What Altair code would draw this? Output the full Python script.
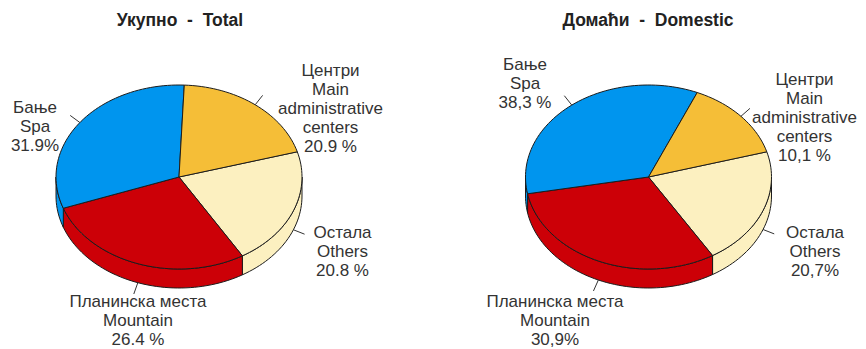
import math
import altair as alt
import pandas as pd

# ---- chart values ----
titles = ["Укупно\u00a0\u00a0-\u00a0\u00a0Total", "Домаћи\u00a0\u00a0-\u00a0\u00a0Domestic"]
categories = ["Остала", "Планинска места", "Бање", "Центри"]
# sector shares as they are drawn in the picture, clockwise from the cream slice
total_drawn = [20.8, 28.1, 31.2, 19.9]
domestic_drawn = [20.7, 30.8, 34.4, 14.1]
total_labels = [
    ["Остала", "Others", "20.8 %"],
    ["Планинска места", "Mountain", "26.4 %"],
    ["Бање", "Spa", "31.9%"],
    ["Центри", "Main", "administrative", "centers", "20.9 %"],
]
domestic_labels = [
    ["Остала", "Others", "20,7%"],
    ["Планинска места", "Mountain", "30,9%"],
    ["Бање", "Spa", "38,3 %"],
    ["Центри", "Main", "administrative", "centers", "10,1 %"],
]

# ---- styles and layout ----
colors = ["#FCF0C0", "#CC0007", "#0095EE", "#F5BE37"]
EDGE = "#1c1c1c"
TEXT = "#333333"
RX, RY, DEPTH = 123, 92, 19
START = 15.9
W, H = 850, 333
pies = [
    dict(cx=179, cy=177, title_x=180, drawn=total_drawn, labels=total_labels,
         anchors=[(342.5, 233), (138, 301.5), (35, 108), (330.5, 71)]),
    dict(cx=648.5, cy=177, title_x=648, drawn=domestic_drawn, labels=domestic_labels,
         anchors=[(815, 233), (555, 301.5), (525, 65), (804.5, 80)]),
]
X = alt.X("x:Q", axis=None, scale=alt.Scale(domain=[8, 8 + W], nice=False, zero=False))
Y = alt.Y("y:Q", axis=None, scale=alt.Scale(domain=[8 + H, 8], nice=False, zero=False))


def pt(p, deg, drop=0):
    a = math.radians(deg)
    return p["cx"] + RX * math.cos(a), p["cy"] - RY * math.sin(a) + drop


def sweep(a0, a1):
    n = max(2, int(abs(a1 - a0) / 2) + 2)
    return [a0 + (a1 - a0) * k / (n - 1) for k in range(n)]


def poly(points, fill):
    df = pd.DataFrame(points, columns=["x", "y"])
    df["i"] = range(len(df))
    return alt.Chart(df).mark_line(fill=fill, stroke=EDGE, strokeWidth=1, strokeJoin="round",
                                   clip=False).encode(x=X, y=Y, order=alt.Order("i:Q"))


def segments(p):
    out, a = [], START
    for share, color in zip(p["drawn"], colors):
        b = a - share * 3.6
        out.append((a, b, color))
        a = b
    return out


walls, tops, extras = [], [], []
for p in pies:
    for a, b, color in segments(p):
        # visible outer wall: the part of the slice on the front half of the ellipse
        lo, hi = min(a, b), max(a, b)
        for u, v in ((max(lo, -180), min(hi, 0)), (max(lo, -540), min(hi, -360))):
            if u < v:
                arc = sweep(u, v)
                pts = [pt(p, t) for t in arc] + [pt(p, t, DEPTH) for t in reversed(arc)]
                pts.append(pts[0])
                walls.append(poly(pts, color))
    for a, b, color in segments(p):
        pts = [(p["cx"], p["cy"])] + [pt(p, t) for t in sweep(a, b)] + [(p["cx"], p["cy"])]
        tops.append(poly(pts, color))

    # leader ticks at each slice's middle
    rows = []
    for n, (a, b, _) in enumerate(segments(p)):
        m = (a + b) / 2
        sinm = math.sin(math.radians(m))
        drop = DEPTH if sinm < -0.1 else 0
        x0, y0 = pt(p, m, drop)
        rows.append(dict(x=x0, y=y0, k=n, i=0))
        rows.append(dict(x=x0 + 12 * math.cos(math.radians(m)), y=y0 - 12 * sinm, k=n, i=1))
    extras.append(alt.Chart(pd.DataFrame(rows)).mark_line(color="#333333", strokeWidth=1).encode(
        x=X, y=Y, detail="k:N", order=alt.Order("i:Q")))

    # text labels
    rows = []
    for lines, (ax, ay) in zip(p["labels"], p["anchors"]):
        for n, line in enumerate(lines):
            rows.append(dict(x=ax, y=ay + n * 19, t=line))
    extras.append(alt.Chart(pd.DataFrame(rows)).mark_text(
        font="Liberation Sans", fontSize=17, color=TEXT, align="center", baseline="middle"
    ).encode(x=X, y=Y, text="t:N"))

title_df = pd.DataFrame({"x": [p["title_x"] for p in pies], "y": [21, 21], "t": titles})
title_layer = alt.Chart(title_df).mark_text(
    font="Liberation Sans", fontSize=17.5, fontWeight="bold", color="#222222",
    align="center", baseline="middle"
).encode(x=X, y=Y, text="t:N")

chart = alt.layer(*walls, *tops, *extras, title_layer).properties(
    width=W, height=H, padding=0, background="white"
).configure_view(stroke=None)

chart.save("out.html", embed_options={"renderer": "svg", "actions": False})
